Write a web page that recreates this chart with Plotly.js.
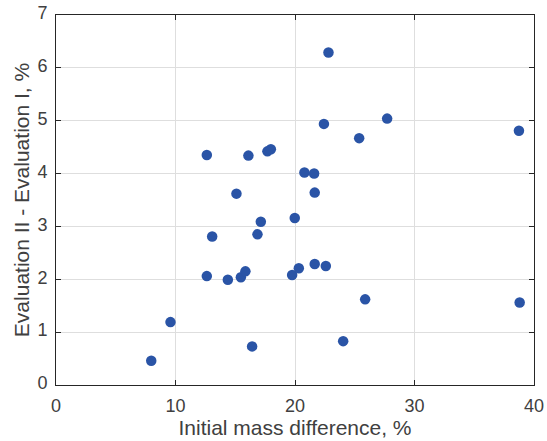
<!DOCTYPE html>
<html>
<head>
<meta charset="utf-8">
<script src="https://cdn.plot.ly/plotly-3.0.1.min.js"></script>
<style>html,body{margin:0;padding:0;background:#fff;}#chart{width:547px;height:441px;}</style>
</head>
<body>
<div id="chart"></div>
<script>
const massDiff = [7.97, 9.58, 12.62, 12.62, 13.07, 14.38, 15.10, 15.47, 15.85, 16.10, 16.41, 16.86, 17.14, 17.69, 17.98, 19.76, 19.98, 20.32, 20.79, 21.60, 21.65, 21.65, 22.42, 22.58, 22.80, 24.03, 25.37, 25.87, 27.71, 38.74, 38.80];
const evalDiff = [0.46, 1.19, 4.35, 2.06, 2.81, 1.99, 3.62, 2.04, 2.15, 4.34, 0.73, 2.85, 3.09, 4.42, 4.46, 2.08, 3.16, 2.21, 4.02, 4.00, 3.64, 2.29, 4.94, 2.25, 6.29, 0.83, 4.67, 1.62, 5.04, 4.81, 1.56];
const xTicks = [0, 10, 20, 30, 40];
const yTicks = [0, 1, 2, 3, 4, 5, 6, 7];
const xTitle = 'Initial mass difference, %';
const yTitle = 'Evaluation II - Evaluation I, %';

const fontFam = '"Liberation Sans", Arial, Helvetica, sans-serif';
const axisCommon = {
  showline: true, mirror: 'ticks', linecolor: '#262626', linewidth: 1,
  ticks: 'inside', ticklen: 5, tickcolor: '#262626', tickwidth: 1,
  showgrid: true, gridcolor: '#dedede', gridwidth: 1,
  zeroline: false, tickmode: 'array',
  tickfont: {family: fontFam, size: 18, color: '#404040'},
  ticklabelstandoff: 4,
  automargin: false
};

const trace = {
  x: massDiff, y: evalDiff, type: 'scatter', mode: 'markers',
  marker: {size: 10.5, color: '#2a54a6'},
  hoverinfo: 'x+y'
};

const layout = {
  width: 547, height: 441,
  margin: {l: 56, r: 13, t: 15, b: 56},
  paper_bgcolor: '#ffffff', plot_bgcolor: '#ffffff',
  showlegend: false,
  xaxis: Object.assign({}, axisCommon, {
    range: [0, 40], tickvals: xTicks, ticktext: xTicks.map(String),
    title: {text: xTitle, font: {family: fontFam, size: 21, color: '#404040'}, standoff: 4}
  }),
  yaxis: Object.assign({}, axisCommon, {
    range: [0, 7], tickvals: yTicks, ticktext: yTicks.map(String),
    ticklabelshift: -2,
    title: {text: yTitle, font: {family: fontFam, size: 21, color: '#404040'}, standoff: 2}
  })
};

Plotly.newPlot('chart', [trace], layout, {displayModeBar: false, staticPlot: true});
</script>
</body>
</html>
